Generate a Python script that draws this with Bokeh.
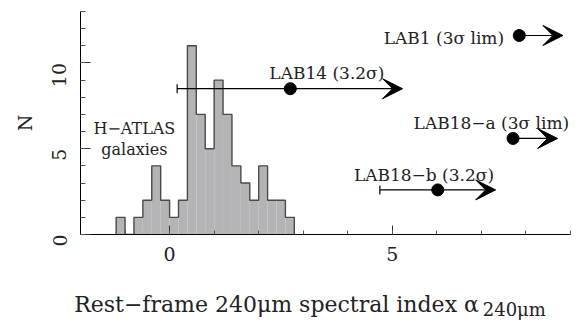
import numpy as np
from bokeh.plotting import figure
from bokeh.models import (Range1d, FixedTicker, ColumnDataSource, Arrow, VeeHead, Label,
                          LinearAxis)
from bokeh.embed import file_html
from bokeh.resources import INLINE

# ---------------- data ----------------
bin_edges = [-1.2, -1.0, -0.8, -0.6, -0.4, -0.2, 0.0, 0.2, 0.4, 0.6, 0.8,
             1.0, 1.2, 1.4, 1.6, 1.8, 2.0, 2.2, 2.4, 2.6, 2.8]
counts = [1, 0, 1, 2, 4, 2, 1, 2, 11, 7, 5, 9, 7, 4, 3, 2, 4, 2, 2, 1]

lab_names = ["LAB1 (3σ lim)", "LAB14 (3.2σ)", "LAB18−a (3σ lim)", "LAB18−b (3.2σ)"]
lab_alpha = [7.85, 2.71, 7.71, 6.02]
lab_n = [11.6, 8.5, 5.6, 2.6]
lab_err_low = [None, 0.17, None, 4.72]
lab_arrow_end = [8.83, 5.23, 8.71, 7.32]

x_ticks = [0, 5]
x_minor = [-2, -1, 0, 1, 2, 3, 4, 5, 6, 7, 8, 9]
y_ticks = [0, 5, 10]
y_minor = list(range(0, 14))

x_title = "Rest−frame 240μm spectral index α"
x_title_sub = "240μm"

FONT = "DejaVu Serif"
NB = "\u00a0"

p = figure(width=578, height=322, output_backend="svg", toolbar_location=None,
           x_range=Range1d(-2, 9), y_range=Range1d(0, 13),
           min_border_left=80, min_border_right=8, min_border_top=11,
           min_border_bottom=84)
p.outline_line_color = None
p.grid.visible = False
p.background_fill_color = "white"

# axes
for ax in (p.xaxis[0], p.yaxis[0]):
    ax.axis_line_color = "black"
    ax.axis_line_width = 1
    ax.major_tick_line_color = "#333333"
    ax.minor_tick_line_color = "#555555"
    ax.major_tick_out = 0
    ax.minor_tick_out = 0
    ax.major_label_text_font = FONT
    ax.major_label_text_font_size = "19px"
    ax.major_label_text_color = "#222222"
    ax.axis_label_text_font = FONT
    ax.axis_label_text_font_style = "normal"

p.xaxis.ticker = FixedTicker(ticks=x_ticks, minor_ticks=x_minor)
p.xaxis.major_tick_in = 9
p.xaxis.minor_tick_in = 4
p.xaxis.major_label_standoff = 12

p.yaxis.ticker = FixedTicker(ticks=y_ticks, minor_ticks=y_minor)
p.yaxis.major_tick_in = 10
p.yaxis.minor_tick_in = 5
p.yaxis.major_label_orientation = np.pi / 2
p.yaxis.major_label_standoff = 21
p.yaxis.axis_label = "N"
p.yaxis.axis_label_text_font_size = "19px"
p.yaxis.axis_label_standoff = 7
p.yaxis.axis_label_text_color = "#222222"


def title_axis(text, size, standoff):
    ax = LinearAxis(ticker=FixedTicker(ticks=[]), axis_line_color=None,
                    major_tick_line_color=None, minor_tick_line_color=None,
                    major_label_text_font_size="0px", major_label_standoff=0,
                    major_tick_in=0, major_tick_out=0, minor_tick_in=0, minor_tick_out=0,
                    axis_label=text, axis_label_text_font=FONT,
                    axis_label_text_font_style="normal", axis_label_text_font_size=size,
                    axis_label_text_color="#222222", axis_label_standoff=standoff)
    p.add_layout(ax, "below")
    return ax


# main x title (shifted left with trailing no-break spaces) and subscript
title_axis(x_title + NB * 14, "22px", 28)
title_axis(NB * 66 + x_title_sub, "18px", -21)

# histogram
edges = np.array(bin_edges)
cnt = np.array(counts)
p.quad(left=edges[:-1], right=edges[1:], bottom=0, top=cnt,
       fill_color="#b4b4b6", line_color=None)
sx = np.repeat(edges, 2)
sy = np.concatenate([[0], np.repeat(cnt, 2), [0]])
p.line(sx, sy, line_color="#4a4a4a", line_width=1.4)

# LAB sources
src = ColumnDataSource(dict(x=lab_alpha, y=lab_n, xe=lab_arrow_end))
p.add_layout(Arrow(end=VeeHead(size=20, fill_color="black", line_color="black"),
                   x_start="x", y_start="y", x_end="xe", y_end="y",
                   line_color="black", line_width=1.2, source=src))

err_x0 = [e for e in lab_err_low if e is not None]
err_x1 = [a for a, e in zip(lab_alpha, lab_err_low) if e is not None]
err_y = [n for n, e in zip(lab_n, lab_err_low) if e is not None]
p.segment(x0=err_x0, y0=err_y, x1=err_x1, y1=err_y, line_color="black", line_width=1.2)
p.scatter(err_x0, err_y, marker="dash", angle=np.pi / 2, size=9,
          line_color="black", line_width=1.2)
p.scatter(lab_alpha, lab_n, size=12, fill_color="black", line_color="black")

# labels
lab_font_size = "17px"
label_specs = [  # (x, y, align)
    (7.51, 11.48, "right"),
    (3.53, 9.43, "center"),
    (8.97, 6.50, "right"),
    (5.71, 3.44, "center"),
]
for name, (lx, ly, al) in zip(lab_names, label_specs):
    p.add_layout(Label(x=lx, y=ly, text=name, text_align=al, text_baseline="alphabetic",
                       text_font=FONT, text_font_size=lab_font_size, text_color="#222222"))

p.add_layout(Label(x=-0.79, y=6.16, text="H−ATLAS", text_align="center",
                   text_baseline="alphabetic", text_font=FONT, text_font_size="16px",
                   text_color="#222222"))
p.add_layout(Label(x=-0.79, y=4.98, text="galaxies", text_align="center",
                   text_baseline="alphabetic", text_font=FONT, text_font_size="16px",
                   text_color="#222222"))

open("out.html", "w").write(file_html(p, INLINE))
